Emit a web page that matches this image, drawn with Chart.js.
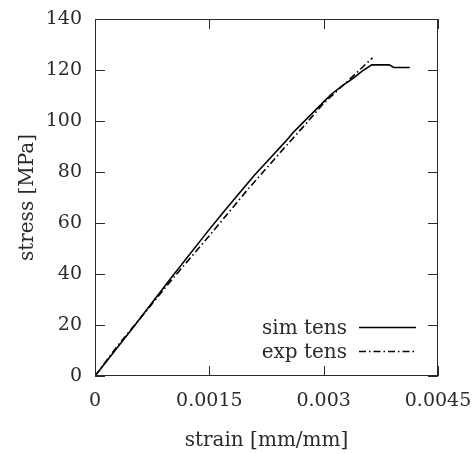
<!DOCTYPE html>
<html><head><meta charset="utf-8">
<script src="https://cdn.jsdelivr.net/npm/chart.js@4/dist/chart.umd.min.js"></script>
<style>html,body{margin:0;padding:0;background:#fff}</style>
</head><body>
<canvas id="c" width="475" height="454"></canvas>
<script>
const simStrain = [0, 0.0005, 0.001, 0.0015, 0.0017, 0.0019, 0.0021, 0.0023, 0.0025, 0.0026, 0.0028, 0.003, 0.0031, 0.00325, 0.0034, 0.0035, 0.00363, 0.00386, 0.00392, 0.00413];
const simStress = [0, 19, 38.5, 57.5, 64.8, 72, 79, 85.5, 92, 95.5, 101.5, 107.5, 110.5, 114, 117, 119.5, 122, 122, 121, 121];
const expStrain = [0, 0.0003, 0.0007, 0.001, 0.0015, 0.002, 0.0025, 0.0028, 0.003, 0.0032, 0.0034, 0.00364];
const expStress = [0, 12, 26.5, 37.5, 55, 73, 90, 100, 107, 112.5, 118, 124.8];
const strainTicks = [0, 0.0015, 0.003, 0.0045];
const stressTicks = [0, 20, 40, 60, 80, 100, 120, 140];
const seriesNames = ['sim tens', 'exp tens'];
const xTitle = 'strain [mm/mm]';
const yTitle = 'stress [MPa]';

const FONT = 'DejaVu Serif';
const INK = '#2a2a2a';
const tickFont = {family: FONT, size: 19};
const titleFont = {family: FONT, size: 20};

function toPts(xs, ys) { return xs.map((x, i) => ({x: x, y: ys[i]})); }
function noPad(s) { s.paddingLeft = 0; s.paddingRight = 0; s.paddingTop = 0; s.paddingBottom = 0; }

const framePlugin = {
  id: 'frame',
  afterDatasetsDraw(chart) {
    const {ctx, chartArea: a, scales} = chart;
    ctx.save();
    ctx.strokeStyle = INK;
    ctx.lineWidth = 1;
    ctx.strokeRect(a.left + 0.5, a.top + 0.5, a.right - a.left - 1, a.bottom - a.top - 1);
    const L = 10;
    ctx.beginPath();
    scales.x.ticks.forEach(t => {
      const px = Math.round(scales.x.getPixelForValue(t.value)) + 0.5;
      ctx.moveTo(px, a.bottom); ctx.lineTo(px, a.bottom - L);
      ctx.moveTo(px, a.top); ctx.lineTo(px, a.top + L);
    });
    scales.y.ticks.forEach(t => {
      const py = Math.round(scales.y.getPixelForValue(t.value)) + 0.5;
      ctx.moveTo(a.left, py); ctx.lineTo(a.left + L, py);
      ctx.moveTo(a.right, py); ctx.lineTo(a.right - L, py);
    });
    ctx.stroke();
    // legend
    ctx.font = '20px "' + FONT + '"';
    ctx.fillStyle = INK;
    ctx.textAlign = 'right';
    ctx.textBaseline = 'alphabetic';
    const rows = [{base: 334, line: 327.5}, {base: 357.5, line: 351.5}];
    chart.data.datasets.forEach((ds, i) => {
      const r = rows[i];
      ctx.fillText(ds.label, 347, r.base);
      ctx.save();
      ctx.strokeStyle = ds.borderColor;
      ctx.lineWidth = ds.borderWidth;
      ctx.setLineDash(ds.borderDash || []);
      ctx.beginPath();
      ctx.moveTo(359, r.line); ctx.lineTo(416, r.line);
      ctx.stroke();
      ctx.restore();
    });
    ctx.restore();
  }
};

new Chart(document.getElementById('c'), {
  type: 'scatter',
  data: {
    datasets: [
      {label: seriesNames[0], data: toPts(simStrain, simStress), showLine: true, borderColor: '#000', borderWidth: 1.6, pointRadius: 0, tension: 0},
      {label: seriesNames[1], data: toPts(expStrain, expStress), showLine: true, borderColor: '#000', borderWidth: 1.6, borderDash: [7, 3, 1.5, 3], pointRadius: 0, tension: 0}
    ]
  },
  options: {
    responsive: false,
    devicePixelRatio: 1,
    animation: false,
    layout: {padding: {top: 19, right: 37, left: 0, bottom: 0}},
    plugins: {legend: {display: false}, tooltip: {enabled: false}},
    scales: {
      x: {
        type: 'linear', position: 'bottom', min: 0, max: 0.0045,
        afterBuildTicks: s => { s.ticks = strainTicks.map(v => ({value: v})); },
        afterFit: s => { s.height = 78; noPad(s); },
        ticks: {font: tickFont, color: INK, padding: 14, maxRotation: 0, autoSkip: false, callback: v => String(v)},
        grid: {display: false, drawTicks: false},
        border: {display: false},
        title: {display: true, text: xTitle, font: titleFont, color: INK, padding: {top: 0, bottom: 1}}
      },
      y: {
        type: 'linear', position: 'left', min: 0, max: 140,
        afterBuildTicks: s => { s.ticks = stressTicks.map(v => ({value: v})); },
        afterFit: s => { s.width = 95; noPad(s); },
        ticks: {font: tickFont, color: INK, padding: 13, autoSkip: false},
        grid: {display: false, drawTicks: false},
        border: {display: false},
        title: {display: true, text: yTitle, font: titleFont, color: INK, padding: {top: 16, bottom: 0}}
      }
    }
  },
  plugins: [framePlugin]
});
</script>
</body></html>
